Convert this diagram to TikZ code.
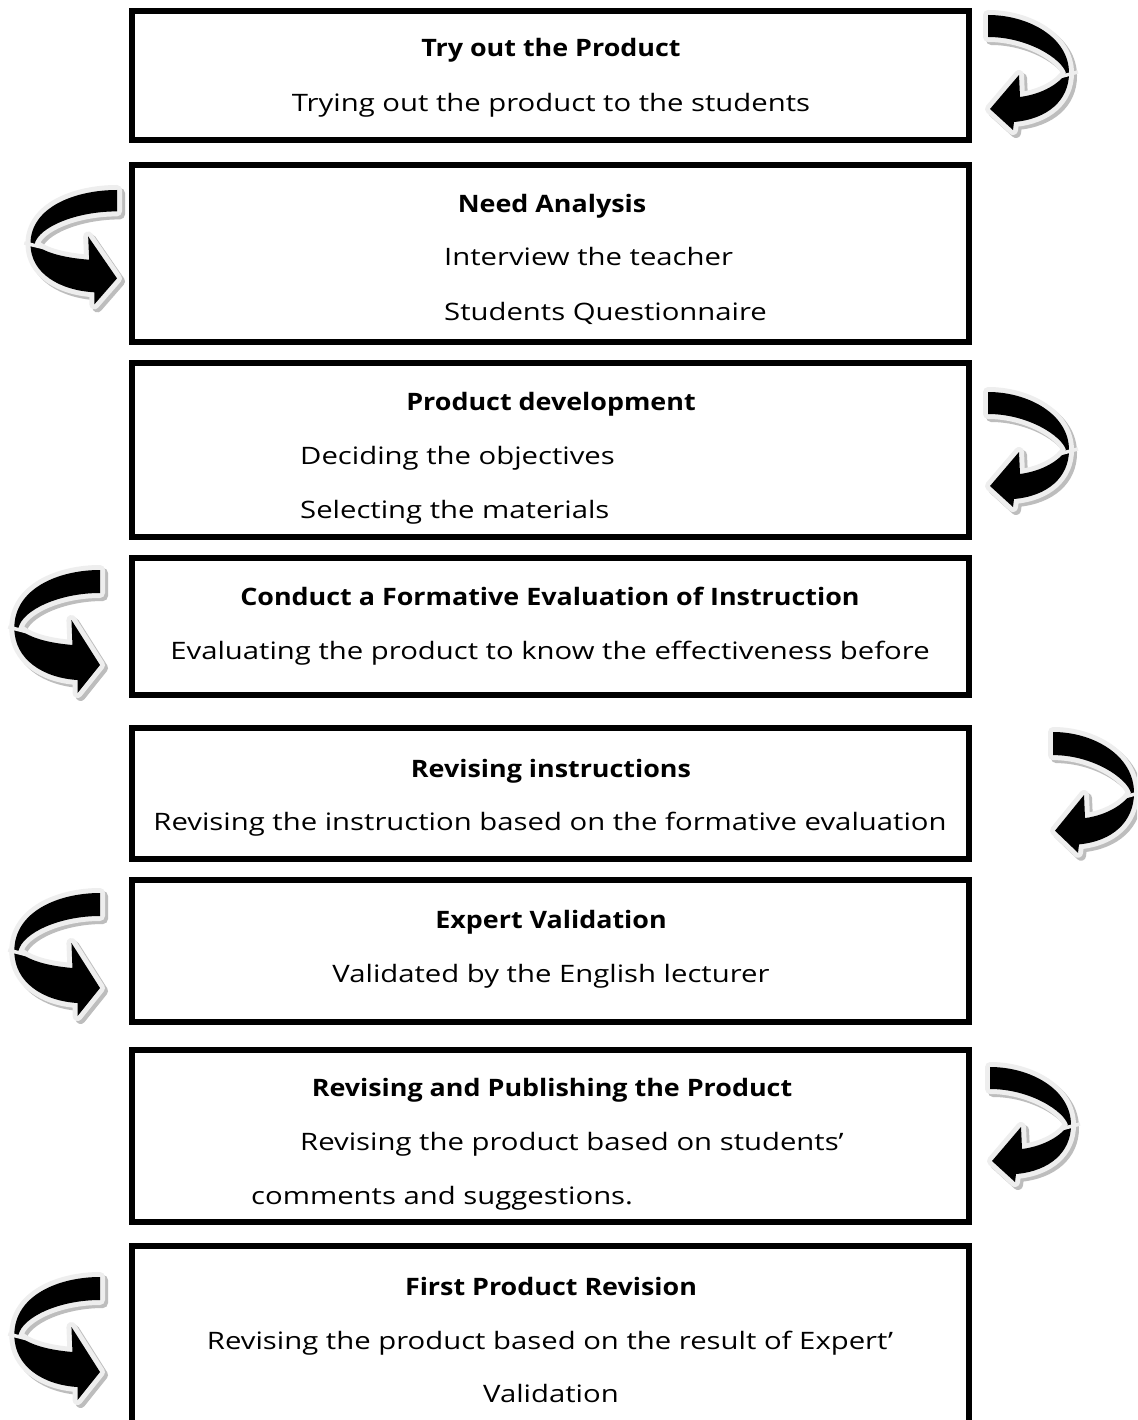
\documentclass[tikz,border=0pt]{standalone}
\usepackage{fontspec}
\setmainfont{Open Sans}[FakeStretch=1.22]
\newfontfamily\ttlfont{Open Sans}[FakeStretch=1.12]
\definecolor{olc}{HTML}{EEEEEE}
\definecolor{shc}{HTML}{BDBDBD}
% right-hand u-turn arrow (local coords, x to the right, y down)
\newcommand\rarrpath{(0,0) .. controls (40,0) and (81,22) .. (81,58)
  .. controls (81,85) and (60,104) .. (26,107) -- (25,115) -- (2,94) -- (31,60) -- (32,82)
  .. controls (55,79) and (72,68) .. (78,58) .. controls (74,44) and (40,22) .. (0,22) -- cycle}
% left-hand u-turn arrow (local coords, mirrored when drawn)
\newcommand\larrpath{(0,0) .. controls (40,0) and (84,18) .. (84,58)
  .. controls (84,90) and (55,108) .. (22,110) -- (22,123) -- (0,95) -- (28,50) -- (27,75)
  .. controls (50,73) and (70,68) .. (80,58) .. controls (76,40) and (40,23) .. (0,23) -- cycle}
\newcommand\uarrow[5]{% #1 path, #2 x, #3 y, #4 xscale, #5 yscale
  \filldraw[fill=shc, draw=shc, line width=10, line join=round, shift={(#2+3,#3+3)}, xscale=#4, yscale=#5] #1;
  \filldraw[fill=black, draw=olc, line width=10, line join=round, shift={(#2,#3)}, xscale=#4, yscale=#5] #1;
  \fill[black, shift={(#2,#3)}, xscale=#4, yscale=#5] #1;
  \draw[olc, line width=3.5, shift={(#2,#3)}, xscale=#4, yscale=#5] (71,62) -- (90,57);
}
\tikzset{
  box/.style={draw=black, line width=6pt, inner sep=0pt, outer sep=0pt, fill=white, minimum width=837pt},
  ttl/.style={font=\fontsize{24}{28}\selectfont\ttlfont\bfseries, anchor=base, inner sep=0pt},
  txt/.style={font=\fontsize{24}{28}\selectfont, anchor=base, inner sep=0pt},
  ltxt/.style={font=\fontsize{24}{28}\selectfont, anchor=base west, inner sep=0pt}
}
\begin{document}
\begin{tikzpicture}[x=1pt,y=-1pt]
\useasboundingbox (0,0) rectangle (1137,1420);
\fill[white] (0,0) rectangle (1137,1420);
\begin{scope}
\clip (0,0) rectangle (1137,1420);
% boxes
\node[box, minimum height=129pt] (b1) at (550.5,75.5) {};
\node[box, minimum height=177pt] (b2) at (550.5,253.5) {};
\node[box, minimum height=174pt] (b3) at (550.5,450) {};
\node[box, minimum height=137pt] (b4) at (550.5,626.5) {};
\node[box, minimum height=131pt] (b5) at (550.5,793.5) {};
\node[box, minimum height=142pt] (b6) at (550.5,951) {};
\node[box, minimum height=172pt] (b7) at (550.5,1136) {};
\node[box, minimum height=184pt] (b8) at (550.5,1338) {};
% texts
\node[ttl] (t1a) at (551,57) {Try out the Product};
\node[txt] (t1b) at (551,112) {Trying out the product to the students};
\node[ttl] (t2a) at (552,213) {Need Analysis};
\node[ltxt] (t2b) at (444,266) {Interview the teacher};
\node[ltxt] (t2c) at (444,320) {Students Questionnaire};
\node[ttl] (t3a) at (551,410) {Product development};
\node[ltxt] (t3b) at (300,464) {Deciding the objectives};
\node[ltxt] (t3c) at (300,518) {Selecting the materials};
\node[ttl] (t4a) at (550,605) {Conduct a Formative Evaluation of Instruction};
\node[txt] (t4b) at (550,659) {Evaluating the product to know the effectiveness before};
\node[ttl] (t5a) at (551,777) {Revising instructions};
\node[txt] (t5b) at (550,830) {Revising the instruction based on the formative evaluation};
\node[ttl] (t6a) at (551,928) {Expert Validation};
\node[txt] (t6b) at (551,982) {Validated by the English lecturer};
\node[ttl] (t7a) at (552,1096) {Revising and Publishing the Product};
\node[ltxt] (t7b) at (300,1150) {Revising the product based on students’};
\node[ltxt] (t7c) at (251,1204) {comments and suggestions.};
\node[ttl] (t8a) at (551,1295) {First Product Revision};
\node[txt] (t8b) at (550,1349) {Revising the product based on the result of Expert’};
\node[txt] (t8c) at (551,1402) {Validation};
% u-turn arrows
\uarrow{\rarrpath}{988}{15}{1}{1}
\uarrow{\rarrpath}{988}{392}{1}{1}
\uarrow{\rarrpath}{1053}{732}{1}{1.05}
\uarrow{\rarrpath}{990}{1067}{1}{1}
\uarrow{\larrpath}{117}{190}{-1.03}{0.93}
\uarrow{\larrpath}{100}{570}{-1.02}{1}
\uarrow{\larrpath}{100}{893}{-1.02}{1}
\uarrow{\larrpath}{100}{1277}{-1.02}{1}
\end{scope}
\end{tikzpicture}
\end{document}
